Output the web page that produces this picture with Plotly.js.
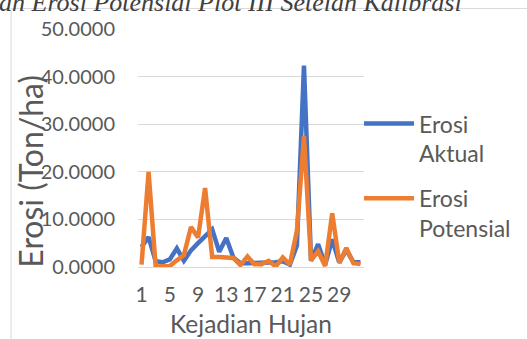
<!DOCTYPE html>
<html>
<head>
<meta charset="utf-8">
<script src="https://cdn.plot.ly/plotly-3.0.1.min.js"></script>
<style>html,body{margin:0;padding:0;background:#fff;}#chart{width:527px;height:339px;}</style>
</head>
<body>
<div id="chart"></div>
<script>
const kejadian = [1,2,3,4,5,6,7,8,9,10,11,12,13,14,15,16,17,18,19,20,21,22,23,24,25,26,27,28,29,30,31,32];
const erosiAktual = [4.2,6.3,1.2,1.0,1.6,3.9,1.3,3.5,5.0,6.5,7.9,3.2,6.1,2.0,0.8,0.8,0.8,0.9,0.9,1.0,1.2,0.5,4.5,42.3,1.3,4.8,0.5,5.8,0.9,3.6,1.0,1.0];
const erosiPotensial = [0.5,20.0,0.1,0.1,0.2,1.4,2.5,8.4,6.2,16.6,2.1,2.1,2.1,1.9,0.4,2.2,0.6,0.6,1.3,0.1,2.0,0.5,7.6,27.5,1.4,3.3,0.2,11.3,0.9,4.0,0.8,0.6];
const xTicks = [1,5,9,13,17,21,25,29];
const yTicks = [0,10,20,30,40,50];

const W = 527, H = 339;
const L = 138, R = 365, T = 29, B = 266.7;
const px = v => (v - L) / (R - L);
const py = v => (B - v) / (B - T);
const FONT = 'Lato, "Liberation Sans", sans-serif';
const GRAY = '#595959';

const traces = [
  {x: kejadian, y: erosiAktual, name: 'Erosi<br>Aktual', type: 'scatter', mode: 'lines',
   line: {color: '#4472C4', width: 4.5}, legendgroup: 'a'},
  {x: kejadian, y: erosiPotensial, name: 'Erosi<br>Potensial', type: 'scatter', mode: 'lines',
   line: {color: '#ED7D31', width: 4.5}, legendgroup: 'b'}
];

const layout = {
  width: W, height: H,
  margin: {l: L, r: W - R, t: T, b: H - B, pad: 0},
  paper_bgcolor: '#fff', plot_bgcolor: '#fff',
  font: {family: FONT, size: 20, color: GRAY},
  showlegend: true,
  legend: {x: px(359), xanchor: 'left', y: py(102), yanchor: 'top', itemwidth: 50,
    font: {family: FONT, size: 23, color: GRAY}, valign: 'top',
    traceorder: 'grouped', tracegroupgap: 12, bgcolor: 'rgba(0,0,0,0)'},
  xaxis: {range: [0.5, 32.5], tickmode: 'array', tickvals: xTicks, ticktext: xTicks.map(String),
    tickangle: 0, showgrid: false, zeroline: false, showline: false, ticks: '',
    ticklabelstandoff: 13, tickfont: {family: FONT, size: 21, color: GRAY},
    title: {text: 'Kejadian Hujan', font: {family: FONT, size: 24.5, color: GRAY}, standoff: 10}},
  yaxis: {range: [0, 50], tickmode: 'array', tickvals: yTicks, tickformat: '.4f',
    tickfont: {family: FONT, size: 20, color: GRAY},
    showgrid: true, gridcolor: '#d9d9d9', gridwidth: 1, zeroline: true, zerolinecolor: '#d9d9d9', zerolinewidth: 1,
    showline: false, ticks: '', ticklabelstandoff: 22},
  shapes: [
    {type: 'rect', xref: 'paper', yref: 'paper', x0: px(10.5), x1: px(700), y0: py(8.5), y1: py(600),
     line: {color: '#d9d9d9', width: 1}, fillcolor: 'rgba(0,0,0,0)', layer: 'below'}
  ],
  annotations: [
    {text: 'Erosi (Ton/ha)', textangle: -90, xref: 'paper', yref: 'paper', x: px(30), y: py(171),
     xanchor: 'center', yanchor: 'middle', showarrow: false, font: {family: FONT, size: 32, color: GRAY}},
    {text: '<i>an Erosi Potensial Plot III Setelah Kalibrasi</i>', xref: 'paper', yref: 'paper',
     x: px(-4), y: py(2.5), xanchor: 'left', yanchor: 'middle', showarrow: false,
     font: {family: '"Liberation Serif", "DejaVu Serif", serif', size: 26, color: '#404040'}}
  ]
};

Plotly.newPlot('chart', traces, layout, {displayModeBar: false, staticPlot: true});
</script>
</body>
</html>
